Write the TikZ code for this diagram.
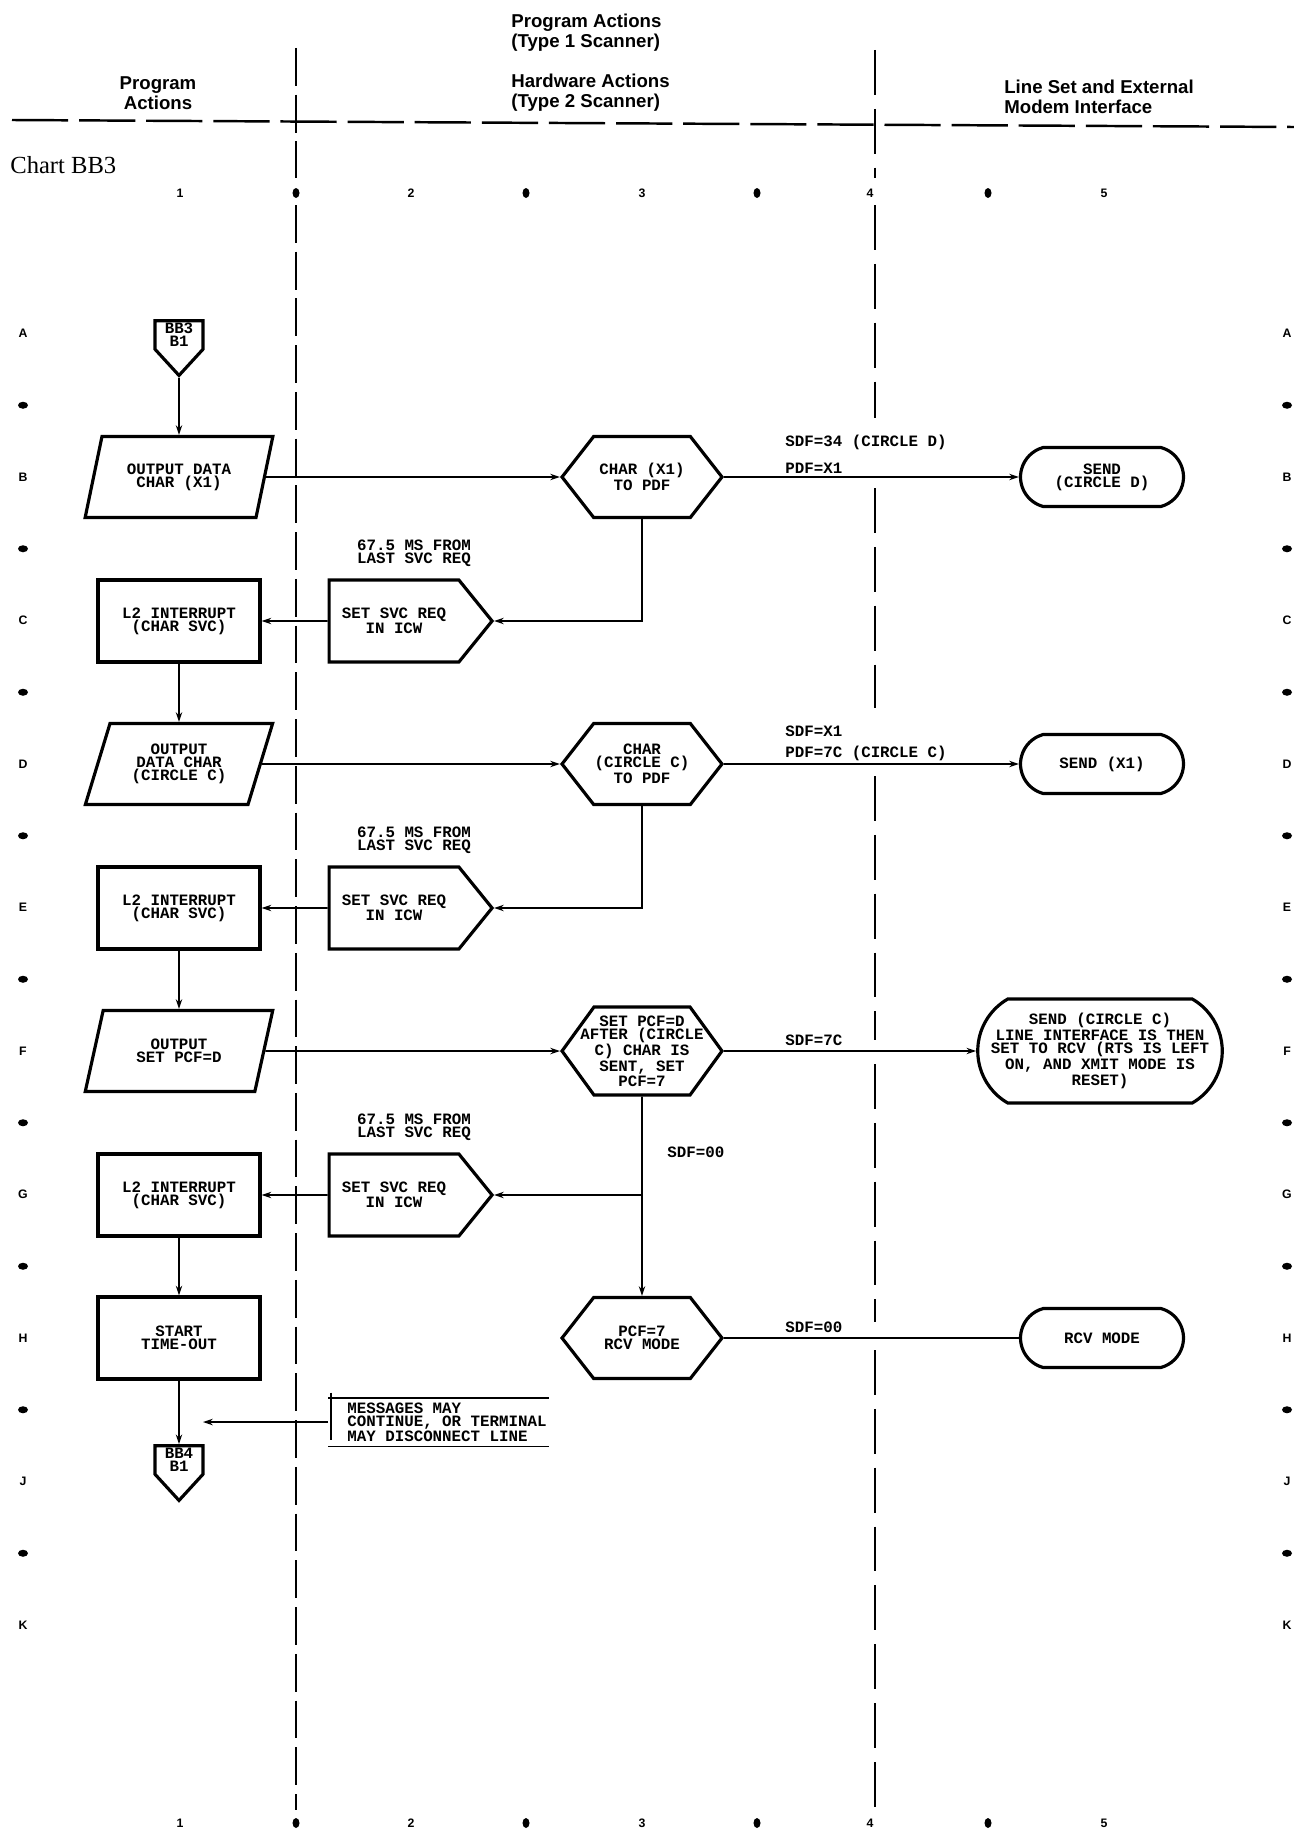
\documentclass[tikz,border=0pt]{standalone}
\usepackage{fontspec}
\setmainfont{Liberation Sans}
\newfontfamily\chartfont{Liberation Serif}
\newfontfamily\boxfont{Liberation Mono}
\usetikzlibrary{positioning,arrows.meta,shapes.geometric,shapes.symbols,shapes.misc,calc}

\begin{document}
\begin{tikzpicture}[x=0.02cm,y=-0.02cm,
 t/.style={font=\boxfont\bfseries\fontsize{9}{7.4}\selectfont,align=center,inner sep=0pt},
 bx/.style={t,draw,line width=1.8pt},
 pr/.style={bx,rectangle,minimum width=3.24cm,minimum height=1.64cm},
 io/.style={bx,trapezium,trapezium left angle=67,trapezium right angle=113,trapezium stretches=true,minimum width=3.76cm,minimum height=1.62cm},
 hx/.style={bx,signal,signal to=east and west,signal pointer angle=104,minimum width=3.2cm,minimum height=1.62cm},
 sv/.style={bx,signal,signal to=east,signal pointer angle=102,minimum width=3.26cm,minimum height=1.64cm},
 op/.style={bx,signal,signal to=south,signal pointer angle=85,minimum width=0.96cm,minimum height=0.88cm},
 tm/.style={bx,rounded rectangle,rounded rectangle arc length=150,minimum width=3.26cm,minimum height=1.18cm},
 hdr/.style={font=\bfseries\fontsize{10.6}{11.3}\selectfont,inner sep=0pt},
 sm/.style={font=\bfseries\fontsize{7}{8}\selectfont,inner sep=0pt},
 dv/.style={line width=1.2pt,dash pattern=on 21.5pt off 5.1pt},
 a/.style={-{Stealth[length=5.5pt,width=3.6pt]},line width=.95pt},
 l/.style={line width=.95pt}]
\useasboundingbox (0,0) rectangle (1294,1835);
\draw[line width=1.4pt,dash pattern=on 32pt off 6.2pt] (12,120) -- (1294,127);
\draw[dv] (296,48) -- (296,178) (296,205) -- (296,1810);
\draw[dv,dash pattern=on 25.5pt off 8pt] (875,50) -- (875,178) (875,205) -- (875,418) (875,488) -- (875,708)
 (875,776) -- (875,1040) (875,1064) -- (875,1322) (875,1350) -- (875,1817);
\node[hdr,anchor=west,align=left] (ttl) at (511,33) {Program Actions\\(Type 1 Scanner)};
\node[hdr,anchor=west,align=left] (hw) at (511,93) {Hardware Actions\\(Type 2 Scanner)};
\node[hdr,align=center] (pa) at (158,93) {Program\\Actions};
\node[hdr,anchor=west,align=left] (ls) at (1004,97) {Line Set and External\\Modem Interface};
\node[font=\chartfont\fontsize{14}{16}\selectfont,anchor=west,inner sep=0pt] (chart) at (10,165) {Chart BB3};
\foreach \n/\x in {1/180,2/411,3/642,4/870,5/1104} {
 \node[sm] at (\x,193) {\n}; \node[sm] at (\x,1823) {\n};}
\foreach \x in {296,526,757,988} {\fill (\x,193) ellipse (3.5 and 5); \fill (\x,1823) ellipse (3.5 and 5);}
\foreach \r [count=\i from 0] in {A,B,C,D,E,F,G,H,J,K} {
 \node[sm] at (23,{333.5+143.5*\i}) {\r}; \node[sm] at (1287,{333.5+143.5*\i}) {\r};}
\foreach \i in {0,...,8} {\fill (23,{405.25+143.5*\i}) ellipse (5 and 3.5); \fill (1287,{405.25+143.5*\i}) ellipse (5 and 3.5);}

\node[op] (bb3) at (179,335) {BB3\\B1};
\node[io] (ioB) at (179,477) {OUTPUT DATA\\CHAR (X1)};
\node[hx] (hxB) at (642,477) {CHAR (X1)\\TO PDF};
\node[tm] (tmB) at (1102,477) {SEND\\(CIRCLE D)};
\node[sv] (svC) at (394,621) {SET SVC REQ\\IN ICW};
\node[pr] (prC) at (179,621) {L2 INTERRUPT\\(CHAR SVC)};
\node[io] (ioD) at (179,764) {OUTPUT\\DATA CHAR\\(CIRCLE C)};
\node[hx] (hxD) at (642,764) {CHAR\\(CIRCLE C)\\TO PDF};
\node[tm] (tmD) at (1102,764) {SEND (X1)};
\node[sv] (svE) at (394,908) {SET SVC REQ\\IN ICW};
\node[pr] (prE) at (179,908) {L2 INTERRUPT\\(CHAR SVC)};
\node[io] (ioF) at (179,1051) {OUTPUT\\SET PCF=D};
\node[hx,signal pointer angle=108,minimum height=1.76cm] (hxF) at (642,1051) {};
\node[t] (hxFt) at (hxF) {SET PCF=D\\AFTER (CIRCLE\\C) CHAR IS\\SENT, SET\\PCF=7};
\node[tm,rounded rectangle arc length=120,minimum width=4.72cm,minimum height=2.08cm] (tmF) at (1100,1051) {SEND (CIRCLE C)\\LINE INTERFACE IS THEN\\SET TO RCV (RTS IS LEFT\\ON, AND XMIT MODE IS\\RESET)};
\node[sv] (svG) at (394,1195) {SET SVC REQ\\IN ICW};
\node[pr] (prG) at (179,1195) {L2 INTERRUPT\\(CHAR SVC)};
\node[pr] (prH) at (179,1338) {START\\TIME-OUT};
\node[hx] (hxH) at (642,1338) {PCF=7\\RCV MODE};
\node[tm] (tmH) at (1102,1338) {RCV MODE};
\node[op] (bb4) at (179,1460) {BB4\\B1};
\node[t,align=left,minimum height=0.96cm,anchor=west] (note) at (347,1422) {MESSAGES MAY\\CONTINUE, OR TERMINAL\\MAY DISCONNECT LINE};
\coordinate (nEnd) at (203,1422);

\node[t,above=0.22cm of svC,xshift=0.4cm] (msC) {67.5 MS FROM\\LAST SVC REQ};
\node[t,above=0.22cm of svE,xshift=0.4cm] (msE) {67.5 MS FROM\\LAST SVC REQ};
\node[t,above=0.22cm of svG,xshift=0.4cm] (msG) {67.5 MS FROM\\LAST SVC REQ};
\node[t,anchor=south west] (pdfB) at (785,474) {PDF=X1};
\node[t,anchor=south west] (sdfB) at (785,450) {SDF=34 (CIRCLE D)};
\node[t,anchor=south west] (pdfD) at (785,761) {PDF=7C (CIRCLE C)};
\node[t,anchor=south west] (sdfD) at (785,737) {SDF=X1};
\node[t,anchor=south west] (sdfF) at (785,1046) {SDF=7C};
\node[t,anchor=west] (sdfG) at (667,1152) {SDF=00};
\node[t,anchor=south west] (sdfH) at (785,1333) {SDF=00};

\draw[a] (bb3) -- (ioB); \draw[a] (ioB) -- (hxB); \draw[a] (hxB) -- (tmB);
\draw[a] (hxB.south) |- (svC.east); \draw[a] (svC) -- (prC); \draw[a] (prC) -- (ioD);
\draw[a] (ioD) -- (hxD); \draw[a] (hxD) -- (tmD);
\draw[a] (hxD.south) |- (svE.east); \draw[a] (svE) -- (prE); \draw[a] (prE) -- (ioF);
\draw[a] (ioF) -- (hxF); \draw[a] (hxF) -- (tmF); \draw[a] (hxF) -- (hxH);
\draw[a] (hxF.south |- svG.east) -- (svG.east); \draw[a] (svG) -- (prG); \draw[a] (prG) -- (prH);
\draw[l] (hxH) -- (tmH); \draw[a] (prH) -- (bb4);
\draw[l] ([xshift=-0.38cm]note.north west) -- ([xshift=0.04cm]note.north east);
\draw[l] ([xshift=-0.38cm]note.south west) -- ([xshift=0.04cm]note.south east);
\draw[line width=1.3pt] ([xshift=-0.32cm,yshift=0.1cm]note.north west) -- ([xshift=-0.32cm,yshift=0.12cm]note.south west);
\draw[a] ([xshift=-0.38cm]note.west) -- (nEnd);
\end{tikzpicture}
\end{document}
